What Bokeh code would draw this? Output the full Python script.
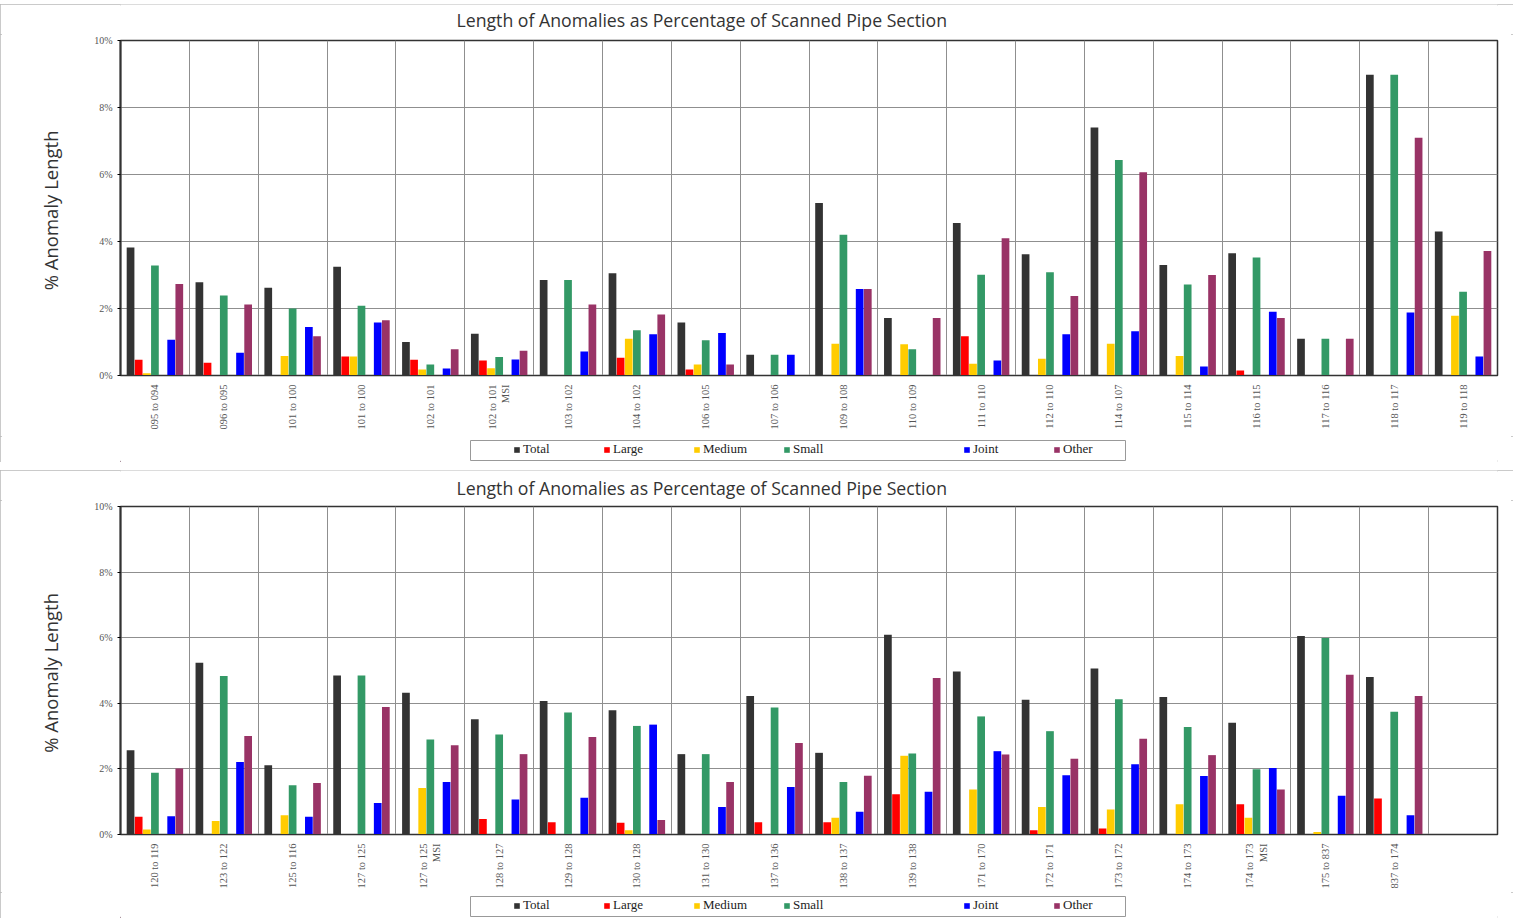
import math
from bokeh.plotting import figure
from bokeh.models import (Range1d, FixedTicker, PrintfTickFormatter, Legend,
                          LegendItem, ColumnDataSource, Spacer, Label)
from bokeh.layouts import column
from bokeh.transform import dodge
from bokeh.embed import file_html
from bokeh.resources import INLINE

TITLE = "Length of Anomalies as Percentage of Scanned Pipe Section"
YLABEL = "% Anomaly  Length"

series = ["Total", "Large", "Medium", "Small", "Joint", "Other"]
colors = ["#333333", "#ff0000", "#ffcc00", "#339966", "#0000ff", "#993366"]

# ---- top panel data (% of scanned pipe length) ----
top_sections = ["095 to 094", "096 to 095", "101 to 100", "101 to 100",
                "102 to 101", "102 to 101\nMSI", "103 to 102", "104 to 102",
                "106 to 105", "107 to 106", "109 to 108", "110 to 109",
                "111 to 110", "112 to 110", "114 to 107", "115 to 114",
                "116 to 115", "117 to 116", "118 to 117", "119 to 118"]
top_total = [3.82, 2.78, 2.62, 3.25, 1.00, 1.25, 2.85, 3.05, 1.58, 0.62,
             5.15, 1.72, 4.55, 3.62, 7.40, 3.30, 3.65, 1.10, 8.98, 4.30]
top_large = [0.47, 0.38, 0.00, 0.57, 0.47, 0.45, 0.00, 0.53, 0.18, 0.00,
             0.00, 0.00, 1.17, 0.00, 0.00, 0.00, 0.15, 0.00, 0.00, 0.00]
top_medium = [0.07, 0.00, 0.58, 0.57, 0.18, 0.22, 0.00, 1.10, 0.33, 0.00,
              0.95, 0.93, 0.35, 0.50, 0.95, 0.58, 0.00, 0.00, 0.00, 1.78]
top_small = [3.28, 2.39, 2.00, 2.08, 0.33, 0.55, 2.85, 1.35, 1.05, 0.62,
             4.20, 0.78, 3.01, 3.08, 6.43, 2.72, 3.52, 1.10, 8.98, 2.50]
top_joint = [1.07, 0.68, 1.45, 1.58, 0.21, 0.48, 0.72, 1.23, 1.27, 0.62,
             2.58, 0.00, 0.45, 1.23, 1.32, 0.27, 1.90, 0.00, 1.88, 0.57]
top_other = [2.73, 2.12, 1.17, 1.65, 0.78, 0.74, 2.12, 1.82, 0.33, 0.00,
             2.58, 1.72, 4.10, 2.37, 6.07, 3.00, 1.72, 1.10, 7.10, 3.72]

# ---- bottom panel data ----
bot_sections = ["120 to 119", "123 to 122", "125 to 116", "127 to 125",
                "127 to 125\nMSI", "128 to 127", "129 to 128", "130 to 128",
                "131 to 130", "137 to 136", "138 to 137", "139 to 138",
                "171 to 170", "172 to 171", "173 to 172", "174 to 173",
                "174 to 173\nMSI", "175 to 837", "837 to 174"]
bot_total = [2.57, 5.24, 2.11, 4.85, 4.32, 3.51, 4.07, 3.79, 2.45, 4.22,
             2.49, 6.09, 4.97, 4.11, 5.06, 4.19, 3.41, 6.05, 4.80]
bot_large = [0.54, 0.00, 0.00, 0.00, 0.00, 0.47, 0.37, 0.36, 0.00, 0.37,
             0.37, 1.23, 0.00, 0.13, 0.18, 0.00, 0.92, 0.00, 1.10]
bot_medium = [0.15, 0.41, 0.59, 0.00, 1.42, 0.00, 0.00, 0.13, 0.00, 0.00,
              0.51, 2.40, 1.37, 0.84, 0.76, 0.92, 0.51, 0.08, 0.00]
bot_small = [1.88, 4.83, 1.50, 4.85, 2.90, 3.05, 3.72, 3.31, 2.45, 3.87,
             1.60, 2.47, 3.60, 3.15, 4.12, 3.28, 1.99, 5.99, 3.74]
bot_joint = [0.56, 2.21, 0.54, 0.96, 1.60, 1.07, 1.12, 3.35, 0.84, 1.45,
             0.69, 1.30, 2.54, 1.81, 2.14, 1.78, 2.03, 1.18, 0.59]
bot_other = [2.01, 3.00, 1.57, 3.89, 2.72, 2.45, 2.97, 0.44, 1.60, 2.79,
             1.79, 4.77, 2.44, 2.31, 2.92, 2.42, 1.37, 4.87, 4.22]

N_SLOTS = 20
slot = 0.118
offsets = [-3 * slot, -2 * slot, -1 * slot, 0.0, 2 * slot, 3 * slot]

FIG_W = 1513
BORDER_L = 120
BORDER_R = 16
FRAME_W = FIG_W - BORDER_L - BORDER_R


def strip(height):
    """A blank strip whose data units are pixels (for title / legend)."""
    s = figure(width=FIG_W, height=height, output_backend="svg",
               toolbar_location=None, x_range=Range1d(0, FRAME_W),
               y_range=Range1d(0, height), x_axis_type=None,
               y_axis_type=None, min_border_left=BORDER_L,
               min_border_right=BORDER_R, min_border_top=0,
               min_border_bottom=0, title=None)
    s.outline_line_color = None
    return s


def make_title_fig(height, y_center):
    t = strip(height)
    t.add_layout(Label(x=336, y=y_center, text=TITLE, text_font="Open Sans",
                       text_font_size="17.7px", text_color="#333333",
                       text_baseline="middle", text_align="left"))
    return t


def make_chart(sections, values, height, top_b, bottom_b):
    p = figure(width=FIG_W, height=height, output_backend="svg",
               toolbar_location=None, x_range=Range1d(0, N_SLOTS),
               y_range=Range1d(0, 10), min_border_left=BORDER_L,
               min_border_right=BORDER_R, min_border_top=top_b,
               min_border_bottom=bottom_b, title=None)
    p.outline_line_color = "#333333"
    p.outline_line_width = 1.5

    centers = [i + 0.5 for i in range(len(sections))]
    data = {"x": centers}
    for name, vals in zip(series, values):
        data[name] = vals
    src = ColumnDataSource(data)

    for name, col, off in zip(series, colors, offsets):
        p.vbar(x=dodge("x", off, range=p.x_range), top=name, width=0.112,
               source=src, fill_color=col, line_color=None)

    p.xaxis.ticker = FixedTicker(ticks=centers)
    p.xaxis.major_label_overrides = {c: s for c, s in zip(centers, sections)}
    p.xaxis.major_label_orientation = math.pi / 2
    p.xaxis.major_label_text_font = "Liberation Serif"
    p.xaxis.major_label_text_font_size = "10.5px"
    p.xaxis.major_label_text_color = "#555555"
    p.xaxis.major_tick_line_color = None
    p.xaxis.minor_tick_line_color = None
    p.xaxis.axis_line_color = "#333333"
    p.xaxis.major_label_standoff = 3

    p.yaxis.ticker = FixedTicker(ticks=[0, 2, 4, 6, 8, 10])
    p.yaxis.formatter = PrintfTickFormatter(format="%d%%")
    p.yaxis.major_label_text_font = "Liberation Serif"
    p.yaxis.major_label_text_font_size = "10px"
    p.yaxis.major_label_text_color = "#555555"
    p.yaxis.major_tick_out = 3
    p.yaxis.major_tick_in = 0
    p.yaxis.minor_tick_line_color = None
    p.yaxis.axis_line_color = "#333333"
    p.yaxis.axis_line_width = 2
    p.yaxis.axis_label = YLABEL
    p.yaxis.axis_label_text_font = "Open Sans"
    p.yaxis.axis_label_text_font_size = "18.5px"
    p.yaxis.axis_label_text_font_style = "normal"
    p.yaxis.axis_label_text_color = "#333333"
    p.yaxis.axis_label_standoff = 28

    p.xgrid.ticker = FixedTicker(ticks=list(range(N_SLOTS + 1)))
    p.xgrid.grid_line_color = "#8f8f8f"
    p.ygrid.grid_line_color = "#8f8f8f"
    return p


def make_legend_fig(height, box_bottom):
    lf = strip(height)
    # legend frame box
    lf.quad(left=[350], right=[1005], bottom=[box_bottom],
            top=[box_bottom + 20], fill_color="white", line_color="#999999",
            line_width=1)
    # legend proxies (placed outside the visible range)
    rends = [lf.vbar(x=[-100], top=[1], width=1, fill_color=c, line_color=None)
             for c in colors]
    dummy = lf.vbar(x=[-100], top=[1], width=1, fill_alpha=0, line_alpha=0)
    items = [LegendItem(label=s, renderers=[r]) for s, r in zip(series, rends)]
    items.insert(4, LegendItem(label=" ", renderers=[dummy]))
    leg = Legend(items=items, orientation="horizontal",
                 location=(393, box_bottom + 10 - 7),
                 label_text_font="Liberation Serif",
                 label_text_font_size="13px", label_text_color="#222222",
                 glyph_width=7, glyph_height=7, label_standoff=3,
                 label_width=80, label_height=14, spacing=0, padding=0,
                 margin=0, border_line_color=None, background_fill_alpha=0)
    lf.add_layout(leg)
    return lf


panel_style = {"outline": "2px solid #b8b8b8", "outline-offset": "-2px"}

t1 = make_title_fig(30, 15)
c1 = make_chart(top_sections,
                [top_total, top_large, top_medium, top_small, top_joint, top_other],
                402, 6, 61)
l1 = make_legend_fig(26, 2)

t2 = make_title_fig(30, 13)
c2 = make_chart(bot_sections,
                [bot_total, bot_large, bot_medium, bot_small, bot_joint, bot_other],
                392, 6, 58)
l2 = make_legend_fig(26, 2)

panel1 = column(t1, c1, l1, spacing=0, styles=panel_style)
panel2 = column(t2, c2, l2, spacing=0, styles=panel_style)
body = column(panel1, panel2, spacing=8)
layout = column(Spacer(width=FIG_W, height=4), body, spacing=0)
open("out.html", "w").write(file_html(layout, INLINE))
